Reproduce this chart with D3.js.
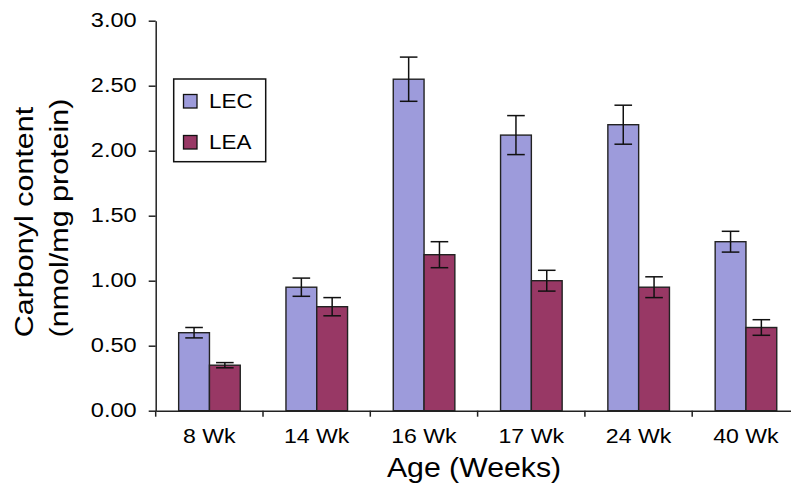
<!DOCTYPE html>
<html>
<head>
<meta charset="utf-8">
<script src="https://cdn.jsdelivr.net/npm/d3@7"></script>
<style>
  html, body { margin: 0; padding: 0; background: #fff; }
  svg { display: block; font-family: "Liberation Sans", Arial, Helvetica, sans-serif; }
</style>
</head>
<body>
<svg id="chart" width="791" height="491"></svg>
<script>
const categories = ["8 Wk", "14 Wk", "16 Wk", "17 Wk", "24 Wk", "40 Wk"];
const seriesNames = ["LEC", "LEA"];
const lecValues = [0.60, 0.95, 2.55, 2.12, 2.20, 1.30];
const lecErrors = [0.04, 0.07, 0.17, 0.15, 0.15, 0.08];
const leaValues = [0.35, 0.80, 1.20, 1.00, 0.95, 0.64];
const leaErrors = [0.02, 0.07, 0.10, 0.08, 0.08, 0.06];
const yTicks = [0, 0.5, 1.0, 1.5, 2.0, 2.5, 3.0];
const colors = { LEC: "#9d9bdb", LEA: "#983865" };

const svg = d3.select("#chart");
const plotLeft = 155.7, plotTop = 20.7, plotBottom = 410.7, plotRight = 155.7 + 6 * 107.3;

const x = d3.scaleBand().domain(categories).range([plotLeft, plotRight]).paddingInner(0).paddingOuter(0);
const bw = x.bandwidth();
const xs = d3.scaleBand().domain(seriesNames).range([bw * 0.214, bw * 0.788]).padding(0);
const y = d3.scaleLinear().domain([0, 3]).range([plotBottom, plotTop]);

const data = [];
categories.forEach((c, i) => {
  data.push({ cat: c, s: "LEC", v: lecValues[i], e: lecErrors[i] });
  data.push({ cat: c, s: "LEA", v: leaValues[i], e: leaErrors[i] });
});

// bars
svg.append("g").selectAll("rect").data(data).join("rect")
  .attr("x", d => x(d.cat) + xs(d.s))
  .attr("y", d => y(d.v))
  .attr("width", xs.bandwidth())
  .attr("height", d => y(0) - y(d.v))
  .attr("fill", d => colors[d.s])
  .attr("stroke", "#222")
  .attr("stroke-width", 1.4);

// error bars
const eg = svg.append("g").attr("stroke", "#111").attr("stroke-width", 1.5);
const capW = 8.8;
data.forEach(d => {
  const cx = x(d.cat) + xs(d.s) + xs.bandwidth() / 2;
  eg.append("line").attr("x1", cx).attr("x2", cx).attr("y1", y(d.v + d.e)).attr("y2", y(d.v - d.e));
  eg.append("line").attr("x1", cx - capW).attr("x2", cx + capW).attr("y1", y(d.v + d.e)).attr("y2", y(d.v + d.e));
  eg.append("line").attr("x1", cx - capW).attr("x2", cx + capW).attr("y1", y(d.v - d.e)).attr("y2", y(d.v - d.e));
});

// y axis
const yAxis = svg.append("g").attr("transform", `translate(${plotLeft},0)`)
  .call(d3.axisLeft(y).tickValues(yTicks).tickFormat(d3.format(".2f")).tickSizeInner(7).tickSizeOuter(0));
yAxis.select(".domain").attr("stroke", "#222").attr("stroke-width", 1.5);
yAxis.selectAll(".tick line").attr("stroke", "#222").attr("stroke-width", 1.5);
yAxis.selectAll(".tick text")
  .attr("x", 0).attr("dy", "0.29em")
  .attr("transform", "translate(-19,0) scale(1.15,1)")
  .attr("font-size", 20.5).attr("fill", "#000")
  .attr("font-family", "Liberation Sans, Arial, sans-serif");

// x axis
const xAxis = svg.append("g").attr("transform", `translate(0,${plotBottom})`)
  .call(d3.axisBottom(x).tickSizeInner(0).tickSizeOuter(0));
xAxis.select(".domain").attr("stroke", "#222").attr("stroke-width", 1.5);
xAxis.selectAll(".tick text")
  .attr("y", 0).attr("dy", 0)
  .attr("transform", "translate(0,32.6) scale(1.1,1)")
  .attr("font-size", 21).attr("fill", "#000")
  .attr("font-family", "Liberation Sans, Arial, sans-serif");
xAxis.selectAll(".bound").data(d3.range(categories.length + 1)).join("line")
  .attr("class", "bound")
  .attr("x1", i => plotLeft + i * x.step()).attr("x2", i => plotLeft + i * x.step())
  .attr("y1", 0).attr("y2", 6)
  .attr("stroke", "#222").attr("stroke-width", 1.5);

// axis titles
svg.append("text")
  .attr("transform", `translate(474,476.7) scale(1.1,1)`)
  .attr("text-anchor", "middle")
  .attr("font-size", 27.5)
  .text("Age (Weeks)");

const yt = svg.append("g");
yt.append("text")
  .attr("transform", "translate(33,222) rotate(-90) scale(1.22,1)")
  .attr("text-anchor", "middle")
  .attr("font-size", 25)
  .text("Carbonyl content");
yt.append("text")
  .attr("transform", "translate(68,218) rotate(-90) scale(1.22,1)")
  .attr("text-anchor", "middle")
  .attr("font-size", 25)
  .text("(nmol/mg protein)");

// legend
const lg = svg.append("g");
lg.append("rect").attr("x", 173.7).attr("y", 79).attr("width", 92).attr("height", 82.7)
  .attr("fill", "#fff").attr("stroke", "#111").attr("stroke-width", 1.5);
seriesNames.forEach((s, i) => {
  lg.append("rect").attr("x", 183.5).attr("y", 94.5 + i * 41).attr("width", 13.5).attr("height", 13.5)
    .attr("fill", colors[s]).attr("stroke", "#111").attr("stroke-width", 1.3);
  lg.append("text")
    .attr("transform", `translate(209,${107.8 + i * 41}) scale(1.12,1)`)
    .attr("font-size", 20)
    .text(s);
});
</script>
</body>
</html>
